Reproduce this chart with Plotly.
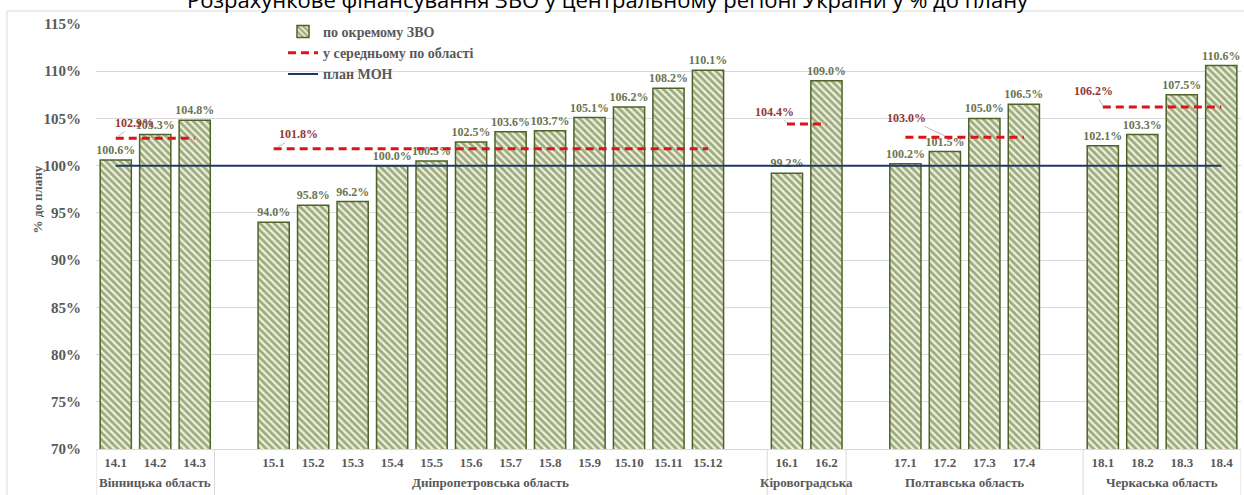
import plotly.graph_objects as go

# ---------------- data ----------------
region_names = ["Вінницька область", "Дніпропетровська область", "Кіровоградська<br>область",
                "Полтавська область", "Черкаська область"]
region_codes = [
    ["14.1", "14.2", "14.3"],
    ["15.1", "15.2", "15.3", "15.4", "15.5", "15.6", "15.7", "15.8", "15.9", "15.10", "15.11", "15.12"],
    ["16.1", "16.2"],
    ["17.1", "17.2", "17.3", "17.4"],
    ["18.1", "18.2", "18.3", "18.4"],
]
region_values = [
    [100.6, 103.3, 104.8],
    [94.0, 95.8, 96.2, 100.0, 100.5, 102.5, 103.6, 103.7, 105.1, 106.2, 108.2, 110.1],
    [99.2, 109.0],
    [100.2, 101.5, 105.0, 106.5],
    [102.1, 103.3, 107.5, 110.6],
]
region_avg = [102.9, 101.8, 104.4, 103.0, 106.2]
plan_level = 100.0
y_tick_values = [70, 75, 80, 85, 90, 95, 100, 105, 110, 115]
title_text = "Розрахункове фінансування ЗВО у центральному регіоні України у % до плану"
legend_names = ["по окремому ЗВО", "у середньому по області", "план МОН"]

# ---------------- layout helpers ----------------
# empty category slots before / after each region on the category axis
region_pads = [(0, 0), (1, 1), (0, 0), (1, 1), (0, 0)]

W, H = 1244, 495
ML, MR, MT, MB = 96, 3, 24, 46
PW, PH = W - ML - MR, H - MT - MB


def pxx(px):
    return (px - ML) / PW


def pxy(py):
    return (H - MB - py) / PH


slot_x, all_codes, all_vals = [], [], []
bounds, centers, avg_x, avg_y = [], [], [], []
pos = 0
for g, (pb, pa) in enumerate(region_pads):
    start = pos - 0.5
    pos += pb
    xs = list(range(pos, pos + len(region_codes[g])))
    pos += len(region_codes[g]) + pa
    end = pos - 0.5
    bounds.append(start)
    centers.append((start + end) / 2)
    slot_x += xs
    all_codes += region_codes[g]
    all_vals += region_values[g]
    avg_x += [xs[0], xs[-1], None]
    avg_y += [region_avg[g], region_avg[g], None]
bounds.append(pos - 0.5)
first_slot, last_slot = slot_x[0], slot_x[-1]

SERIF = "Liberation Serif, Times New Roman, serif"
GREY = "#595959"
BAR_LABEL = "#6b7450"
RED_LABEL = "#943634"

fig = go.Figure()
fig.add_trace(go.Bar(
    x=slot_x, y=all_vals, name=legend_names[0],
    width=0.79,
    marker=dict(color="#ebf1de",
                line=dict(color="#4f6228", width=1.5),
                pattern=dict(shape="\\", fgcolor="#4f6228", bgcolor="#eef3dc",
                             size=5, solidity=0.55)),
    text=[f"{v:.1f}%" for v in all_vals], textposition="outside",
    constraintext="none",
    textfont=dict(family=SERIF, size=12, color=BAR_LABEL, weight="bold"),
    cliponaxis=False,
))
fig.add_trace(go.Scatter(
    x=avg_x, y=avg_y, name=legend_names[1], mode="lines",
    line=dict(color="#d9151b", width=3, dash="8px,5px"),
    connectgaps=False,
))
fig.add_trace(go.Scatter(
    x=[first_slot, last_slot], y=[plan_level, plan_level], name=legend_names[2], mode="lines",
    line=dict(color="#1f3864", width=2),
))

annotations = []
# region average labels with leader lines
avg_offsets = [(17, -14, 0.05), (21, -13, 0.1), (-12, -11, 0.0), (-38, -18, 1.0), (-9, -15, 0.0)]
for g, (ax, ay, dx) in enumerate(avg_offsets):
    first = avg_x[3 * g]
    annotations.append(dict(
        x=first + dx, y=region_avg[g] + 0.15, xref="x", yref="y",
        text=f"{region_avg[g]:.1f}%", showarrow=True, arrowhead=0, arrowwidth=0.8,
        arrowcolor="#a6a6a6", ax=ax, ay=ay, standoff=0,
        font=dict(family=SERIF, size=12, color=RED_LABEL, weight="bold"),
    ))
# region (group) labels of the category axis
for g, name in enumerate(region_names):
    annotations.append(dict(
        x=centers[g], y=pxy(473), xref="x", yref="paper", yanchor="top",
        text=name, showarrow=False,
        font=dict(family=SERIF, size=13, color=GREY, weight="bold"),
    ))
# y axis title
annotations.append(dict(
    x=pxx(28), y=pxy(200), xref="paper", yref="paper", text="% до плану",
    textangle=-90, showarrow=False,
    font=dict(family=SERIF, size=13, color=GREY, weight="bold"),
))
# chart title (cut by the top edge as in the original)
annotations.append(dict(
    x=pxx(608), y=pxy(-1), xref="paper", yref="paper", yanchor="middle",
    text=title_text, showarrow=False,
    font=dict(family="Open Sans, sans-serif", size=22, color="#000000"),
))

shapes = []
for b in bounds:
    shapes.append(dict(type="line", xref="x", yref="paper", x0=b, x1=b, y0=0, y1=-0.3,
                       line=dict(color="#d9d9d9", width=1)))
# outer chart frame
shapes.append(dict(type="line", xref="paper", yref="paper", x0=pxx(7), x1=pxx(7),
                   y0=pxy(11), y1=-0.3, line=dict(color="#d9d9d9", width=1)))
shapes.append(dict(type="line", xref="paper", yref="paper", x0=pxx(7), x1=1.2,
                   y0=pxy(11), y1=pxy(11), line=dict(color="#d9d9d9", width=1)))

fig.update_layout(
    width=W, height=H,
    margin=dict(l=ML, r=MR, t=MT, b=MB),
    paper_bgcolor="white", plot_bgcolor="white",
    bargap=0.2,
    showlegend=True,
    legend=dict(x=pxx(283), y=pxy(16), xanchor="left", yanchor="top",
                bgcolor="rgba(0,0,0,0)", tracegroupgap=0,
                font=dict(family=SERIF, size=14, color=GREY, weight="bold")),
    annotations=annotations,
    shapes=shapes,
    xaxis=dict(range=[-0.5, bounds[-1]], tickmode="array", tickvals=slot_x, ticktext=all_codes,
               showgrid=False, zeroline=False, showline=True, linecolor="#d9d9d9", linewidth=1,
               ticks="", ticklabelstandoff=1,
               tickfont=dict(family=SERIF, size=13, color=GREY, weight="bold")),
    yaxis=dict(range=[70, 115], tickmode="array", tickvals=y_tick_values,
               ticktext=[f"{v}%" for v in y_tick_values],
               showgrid=True, gridcolor="#d9d9d9", gridwidth=1, zeroline=False,
               showline=False, ticks="", ticklabelstandoff=14,
               tickfont=dict(family=SERIF, size=15, color=GREY, weight="bold")),
)

fig.write_html("out.html")
